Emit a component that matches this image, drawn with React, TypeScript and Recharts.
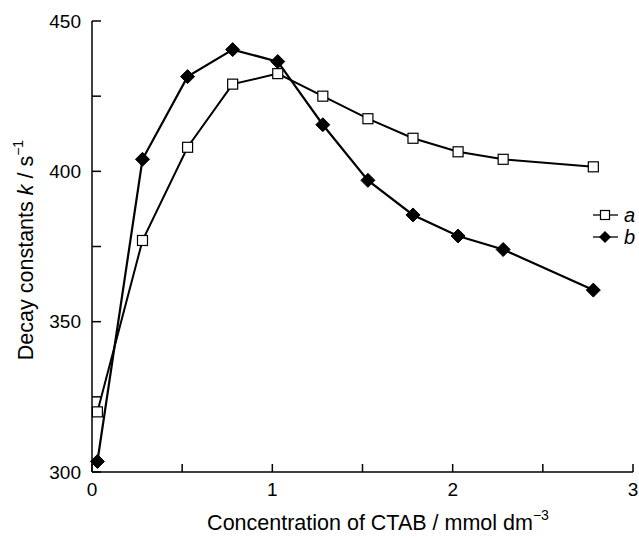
import { LineChart, Line, XAxis, YAxis } from "recharts";

// CTAB concentration (mmol dm^-3) and decay constants k (s^-1)
const conc = [0.03, 0.28, 0.53, 0.78, 1.03, 1.28, 1.53, 1.78, 2.03, 2.28, 2.78];
const seriesA = [320, 377, 408, 429, 432.5, 425, 417.5, 411, 406.5, 404, 401.5];
const seriesB = [303.5, 404, 431.5, 440.5, 436.5, 415.5, 397, 385.5, 378.5, 374, 360.5];

const xTicks = [0, 0.5, 1, 1.5, 2, 2.5, 3];
const yTicks = [300, 325, 350, 375, 400, 425, 450];
const xLabels = [0, 1, 2, 3];
const yLabels = [300, 350, 400, 450];

const data = conc.map((c, i) => ({ c, a: seriesA[i], b: seriesB[i] }));

const FONT = "'Liberation Sans', Arial, sans-serif";

const SquareDot = (props: any) => {
  const { cx, cy, index } = props;
  return (
    <rect key={`sq-${index}`} x={cx - 5} y={cy - 5} width={10} height={10}
      fill="#fff" stroke="#000" strokeWidth={1.2} />
  );
};

const DiamondDot = (props: any) => {
  const { cx, cy, index } = props;
  return (
    <path key={`dm-${index}`} d={`M${cx},${cy - 7} L${cx + 7},${cy} L${cx},${cy + 7} L${cx - 7},${cy} Z`}
      fill="#000" stroke="#000" strokeWidth={1} />
  );
};

const YTick = (props: any) => {
  const { x, y, payload } = props;
  const major = yLabels.includes(payload.value);
  return (
    <g>
      <line x1={x} x2={x + 9} y1={y} y2={y} stroke="#000" strokeWidth={1.5} />
      {major && (
        <text x={x - 11} y={y} textAnchor="end" dominantBaseline="central"
          fontSize={19} fontFamily={FONT} fill="#000">
          {payload.value}
        </text>
      )}
    </g>
  );
};

const XTick = (props: any) => {
  const { x, y, payload } = props;
  const major = xLabels.includes(payload.value);
  return (
    <g>
      <line x1={x} x2={x} y1={y} y2={y - 8} stroke="#000" strokeWidth={1.5} />
      {major && (
        <text x={x} y={y + 24} textAnchor="middle"
          fontSize={19} fontFamily={FONT} fill="#000">
          {payload.value}
        </text>
      )}
    </g>
  );
};

export default function App() {
  return (
    <div style={{ position: "absolute", left: 0, top: 0, width: 639, height: 538, background: "#fff" }}>
      <LineChart width={639} height={538} data={data}
        margin={{ top: 21, right: 6, left: 0, bottom: 0 }}>
        <XAxis dataKey="c" type="number" domain={[0, 3]} ticks={xTicks}
          height={66} tickSize={0} tickMargin={0} tick={<XTick />}
          axisLine={{ stroke: "#000", strokeWidth: 1.5 }} tickLine={false} />
        <YAxis type="number" domain={[300, 450]} ticks={yTicks}
          width={92} tickSize={0} tickMargin={0} tick={<YTick />}
          axisLine={{ stroke: "#000", strokeWidth: 1.5 }} tickLine={false} />
        <Line dataKey="a" stroke="#000" strokeWidth={2} dot={SquareDot}
          isAnimationActive={false} />
        <Line dataKey="b" stroke="#000" strokeWidth={2.2} dot={DiamondDot}
          isAnimationActive={false} />
      </LineChart>

      {/* axis titles and legend */}
      <svg width={639} height={538} style={{ position: "absolute", left: 0, top: 0, pointerEvents: "none" }}>
        <text x={378} y={530} textAnchor="middle" fontSize={21.5} fontFamily={FONT} fill="#000">
          Concentration of CTAB / mmol dm
          <tspan dy={-10} fontSize={14}>−3</tspan>
        </text>
        <text transform="translate(33,250) rotate(-90)" textAnchor="middle"
          fontSize={21.5} fontFamily={FONT} fill="#000">
          Decay constants <tspan fontStyle="italic">k</tspan> / s
          <tspan dy={-10} fontSize={14}>−1</tspan>
        </text>
        <g>
          <line x1={593} x2={618} y1={215} y2={215} stroke="#000" strokeWidth={1.3} />
          <rect x={600.5} y={210.5} width={9} height={9} fill="#fff" stroke="#000" strokeWidth={1.2} />
          <text x={624} y={222} fontSize={20} fontStyle="italic" fontFamily={FONT} fill="#000">a</text>
          <line x1={593} x2={618} y1={237} y2={237} stroke="#000" strokeWidth={1.3} />
          <path d="M605,231 L611,237 L605,243 L599,237 Z" fill="#000" />
          <text x={624} y={244} fontSize={20} fontStyle="italic" fontFamily={FONT} fill="#000">b</text>
        </g>
      </svg>
    </div>
  );
}
